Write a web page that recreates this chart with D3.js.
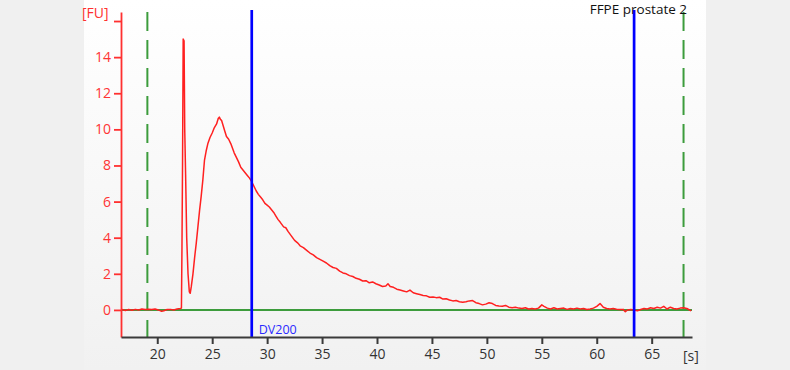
<html><head>
<script src="https://d3js.org/d3.v7.min.js"></script>
<style>
  body { margin: 0; background: #f0f0f0; }
  svg text { font-family: "Open Sans", sans-serif; }
  .yaxis path, .yaxis line { stroke: #ff3030; stroke-width: 1.8; }
  .yaxis text { fill: #ff3434; font-size: 14px; }
  .xaxis path, .xaxis line { stroke: #3a3a3a; stroke-width: 2; }
  .xaxis text { fill: #333; font-size: 14px; }
</style>
</head>
<body>
<svg id="chart" width="790" height="370"></svg>
<script>

// electropherogram trace, [time in s, FU]
const trace = [
  [16.8,0.02],[17.1,-0.03],[17.4,0.02],[17.7,-0.02],[18.0,0.03],[18.3,0.0],[18.6,0.05],[18.9,0.02],
  [19.2,0.04],[19.5,0.02],[19.8,0.05],[20.1,0.0],[20.4,-0.08],[20.6,-0.05],[20.9,0.02],[21.2,0.03],
  [21.5,0.0],[21.8,0.05],[22.1,0.08],[22.2,0.1],[22.25,3.5],[22.3,8.0],[22.36,15.0],[22.44,14.9],
  [22.5,10.0],[22.58,7.5],[22.68,4.0],[22.8,2.0],[22.92,1.0],[23.0,0.92],[23.1,1.3],[23.25,2.0],
  [23.4,2.9],[23.55,3.7],[23.7,4.6],[23.85,5.5],[24.0,6.3],[24.15,7.2],[24.3,8.3],[24.45,8.8],
  [24.6,9.2],[24.8,9.55],[25.0,9.8],[25.2,10.1],[25.4,10.3],[25.55,10.6],[25.65,10.68],[25.75,10.55],
  [25.85,10.5],[26.0,10.2],[26.15,9.9],[26.3,9.6],[26.5,9.45],[26.7,9.2],[26.85,8.95],[27.0,8.7],
  [27.2,8.45],[27.4,8.2],[27.6,7.9],[27.8,7.75],[28.0,7.6],[28.2,7.45],[28.4,7.3],[28.6,7.1],
  [28.8,6.85],[29.0,6.6],[29.2,6.4],[29.4,6.25],[29.6,6.1],[29.8,5.9],[30.0,5.8],[30.2,5.7],
  [30.4,5.55],[30.6,5.4],[30.8,5.2],[31.0,5.0],[31.2,4.85],[31.5,4.6],[31.7,4.55],[31.9,4.35],
  [32.2,4.1],[32.5,3.85],[32.8,3.7],[33.0,3.55],[33.3,3.45],[33.6,3.3],[33.9,3.15],[34.2,3.05],
  [34.5,2.9],[34.8,2.8],[35.1,2.7],[35.4,2.6],[35.7,2.45],[36.0,2.35],[36.3,2.3],[36.6,2.15],
  [36.9,2.05],[37.2,2.0],[37.5,1.9],[37.8,1.85],[38.1,1.75],[38.4,1.7],[38.7,1.6],[39.0,1.62],
  [39.3,1.5],[39.6,1.55],[39.9,1.45],[40.2,1.38],[40.5,1.3],[40.8,1.32],[41.0,1.45],[41.2,1.3],
  [41.5,1.25],[41.8,1.15],[42.1,1.1],[42.4,1.05],[42.7,1.0],[43.0,1.1],[43.3,0.95],[43.6,0.9],
  [43.9,0.85],[44.2,0.8],[44.5,0.78],[44.8,0.7],[45.1,0.72],[45.4,0.68],[45.7,0.7],[46.0,0.6],
  [46.3,0.62],[46.6,0.55],[46.9,0.5],[47.2,0.52],[47.5,0.45],[47.8,0.42],[48.1,0.45],[48.4,0.5],
  [48.7,0.52],[49.0,0.4],[49.3,0.35],[49.6,0.28],[49.9,0.32],[50.2,0.4],[50.5,0.35],[50.8,0.25],
  [51.1,0.22],[51.4,0.2],[51.7,0.25],[52.0,0.15],[52.3,0.12],[52.6,0.15],[52.9,0.1],[53.2,0.08],
  [53.5,0.12],[53.8,0.05],[54.1,0.08],[54.4,0.05],[54.7,0.1],[55.0,0.28],[55.2,0.2],[55.5,0.1],
  [55.8,0.05],[56.1,0.12],[56.4,0.05],[56.7,0.08],[57.0,0.1],[57.3,0.03],[57.6,0.08],[57.9,0.05],
  [58.2,0.1],[58.5,0.05],[58.8,0.08],[59.1,0.02],[59.4,0.05],[59.7,0.1],[60.0,0.2],[60.3,0.35],
  [60.6,0.15],[60.9,0.08],[61.2,0.05],[61.5,0.08],[61.8,0.04],[62.1,0.02],[62.4,0.03],[62.6,-0.1],
  [62.8,0.0],[63.1,0.02],[63.4,0.0],[63.7,-0.05],[64.0,0.02],[64.3,0.08],[64.6,0.05],[64.9,0.12],
  [65.2,0.08],[65.5,0.15],[65.8,0.1],[66.1,0.2],[66.4,0.05],[66.7,0.15],[67.0,0.08],[67.3,0.05],
  [67.6,0.1],[67.9,0.12],[68.2,0.08],[68.6,-0.05]
];

const xTicks = [20,25,30,35,40,45,50,55,60,65];
const yTicks = [0,2,4,6,8,10,12,14,16];
const yLabelled = [0,2,4,6,8,10,12,14];

// marker lines
const ladderBounds = [19.1, 67.9];   // green dashed
const dv200Bounds = [28.6, 63.4];    // blue

const title = "FFPE prostate 2";

const svg = d3.select("svg#chart");
const margin = {left: 121, right: 98, top: 12, bottom: 33};
const width = +svg.attr("width");
const height = +svg.attr("height");

// panel background
const defs = svg.append("defs");
const grad = defs.append("linearGradient").attr("id","panelGrad")
  .attr("x1",0).attr("y1",0).attr("x2",0).attr("y2",1);
grad.append("stop").attr("offset","0%").attr("stop-color","#ffffff");
grad.append("stop").attr("offset","100%").attr("stop-color","#f1f1f1");
svg.append("rect").attr("x",0).attr("y",0).attr("width",width).attr("height",height).attr("fill","#f0f0f0");
svg.append("rect").attr("x",84).attr("y",0).attr("width",622).attr("height",height).attr("fill","url(#panelGrad)");

const xScale = d3.scaleLinear().domain([16.7, 68.67]).range([margin.left, width - margin.right]);
const yScale = d3.scaleLinear().domain([-1.5, 16.5]).range([height - margin.bottom, margin.top]);

// zero baseline
svg.append("line")
  .attr("x1", xScale.range()[0]).attr("x2", xScale.range()[1])
  .attr("y1", yScale(0)).attr("y2", yScale(0))
  .attr("stroke","#3c9c3c").attr("stroke-width",2);

// green dashed ladder markers
ladderBounds.forEach(d => {
  svg.append("line")
    .attr("x1", xScale(d)).attr("x2", xScale(d))
    .attr("y1", yScale.range()[1]).attr("y2", yScale.range()[0])
    .attr("stroke","#3c9c3c").attr("stroke-width",2)
    .attr("stroke-dasharray","19,9");
});

// trace
let line = d3.line().x(d => xScale(d[0])).y(d => yScale(d[1]));
svg.append("path").datum(trace)
  .attr("d", line)
  .attr("fill","none")
  .attr("stroke","#ff2020")
  .attr("stroke-width",1.5)
  .attr("stroke-linejoin","round");

// DV200 region lines
dv200Bounds.forEach(d => {
  svg.append("line")
    .attr("x1", xScale(d)).attr("x2", xScale(d))
    .attr("y1", 10).attr("y2", yScale.range()[0])
    .attr("stroke","#0000ff").attr("stroke-width",2.7);
});
svg.append("text")
  .attr("x", xScale(dv200Bounds[0]) + 7).attr("y", 334)
  .attr("fill","#2a2aff").style("font-size","12.5px")
  .text("DV200");

// axes
let leftAxis = d3.axisLeft(yScale).tickValues(yTicks).tickSizeInner(7).tickSizeOuter(0).tickPadding(3)
  .tickFormat(d => yLabelled.includes(d) ? d : "");
svg.append("g").attr("class","yaxis")
  .attr("transform","translate("+margin.left+",0)")
  .call(leftAxis);

let bottomAxis = d3.axisBottom(xScale).tickValues(xTicks).tickSizeInner(7).tickSizeOuter(0).tickPadding(5);
svg.append("g").attr("class","xaxis")
  .attr("transform","translate(0,"+(height - margin.bottom)+")")
  .call(bottomAxis);

// unit labels and title
svg.append("text").attr("x",82).attr("y",18)
  .attr("fill","#ff3030").style("font-size","14px").text("[FU]");
svg.append("text").attr("x",683).attr("y",361)
  .attr("fill","#333").style("font-size","14px").text("[s]");
svg.append("text").attr("x",687).attr("y",14).attr("text-anchor","end")
  .attr("fill","#111").style("font-size","13.5px").text(title);

</script>
</body>
</html>
